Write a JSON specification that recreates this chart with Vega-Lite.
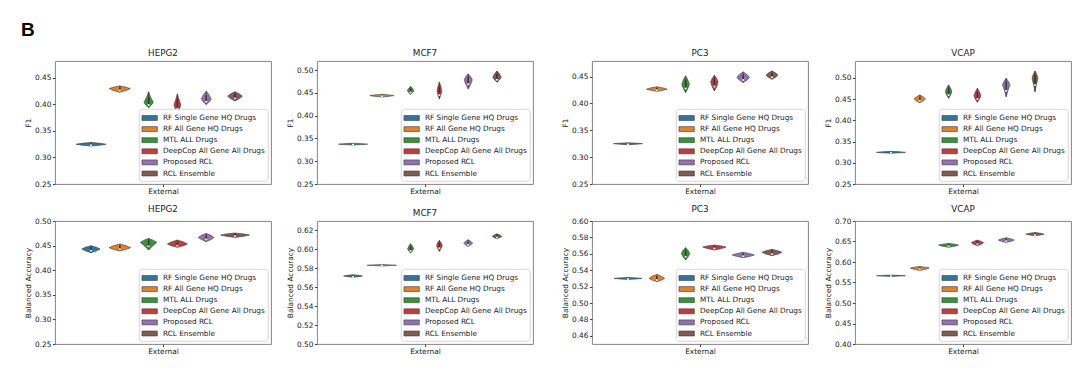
{
"$schema":"https://vega.github.io/schema/vega-lite/v6.json",
"padding":{"left":20,"top":20,"right":6,"bottom":6},
"title":{"text":"B","anchor":"start","frame":"bounds","fontSize":19,"fontWeight":"bold","font":"Liberation Sans","color":"#000000","offset":9,"dx":-3},
"datasets":{
"methods":[{"k":0,"method":"RF Single Gene HQ Drugs"},{"k":1,"method":"RF All Gene HQ Drugs"},{"k":2,"method":"MTL ALL Drugs"},{"k":3,"method":"DeepCop All Gene All Drugs"},{"k":4,"method":"Proposed RCL"},{"k":5,"method":"RCL Ensemble"}],
"violins":[
{"p":1,"k":0,"v":0.3215,"d":0},{"p":1,"k":0,"v":0.32325,"d":0.31},{"p":1,"k":0,"v":0.325,"d":0.5},{"p":1,"k":0,"v":0.32675,"d":0.31},{"p":1,"k":0,"v":0.3285,"d":0},
{"p":1,"k":1,"v":0.423,"d":0},{"p":1,"k":1,"v":0.4265,"d":0.217},{"p":1,"k":1,"v":0.43,"d":0.35},{"p":1,"k":1,"v":0.4325,"d":0.217},{"p":1,"k":1,"v":0.435,"d":0},
{"p":1,"k":2,"v":0.394,"d":0},{"p":1,"k":2,"v":0.399,"d":0.096},{"p":1,"k":2,"v":0.404,"d":0.155},{"p":1,"k":2,"v":0.414,"d":0.065},{"p":1,"k":2,"v":0.424,"d":0},
{"p":1,"k":3,"v":0.385,"d":0},{"p":1,"k":3,"v":0.392,"d":0.072},{"p":1,"k":3,"v":0.399,"d":0.115},{"p":1,"k":3,"v":0.4095,"d":0.055},{"p":1,"k":3,"v":0.42,"d":0},
{"p":1,"k":4,"v":0.4,"d":0},{"p":1,"k":4,"v":0.405,"d":0.103},{"p":1,"k":4,"v":0.41,"d":0.165},{"p":1,"k":4,"v":0.4175,"d":0.103},{"p":1,"k":4,"v":0.425,"d":0},
{"p":1,"k":5,"v":0.4066,"d":0},{"p":1,"k":5,"v":0.4111,"d":0.152},{"p":1,"k":5,"v":0.4155,"d":0.245},{"p":1,"k":5,"v":0.4198,"d":0.152},{"p":1,"k":5,"v":0.424,"d":0},
{"p":2,"k":0,"v":0.3355,"d":0},{"p":2,"k":0,"v":0.3365,"d":0.3},{"p":2,"k":0,"v":0.3375,"d":0.485},{"p":2,"k":0,"v":0.3385,"d":0.3},{"p":2,"k":0,"v":0.3395,"d":0},
{"p":2,"k":1,"v":0.441,"d":0},{"p":2,"k":1,"v":0.4425,"d":0.248},{"p":2,"k":1,"v":0.444,"d":0.4},{"p":2,"k":1,"v":0.4455,"d":0.248},{"p":2,"k":1,"v":0.447,"d":0},
{"p":2,"k":2,"v":0.447,"d":0},{"p":2,"k":2,"v":0.451,"d":0.068},{"p":2,"k":2,"v":0.455,"d":0.11},{"p":2,"k":2,"v":0.4595,"d":0.068},{"p":2,"k":2,"v":0.464,"d":0},
{"p":2,"k":3,"v":0.437,"d":0},{"p":2,"k":3,"v":0.4455,"d":0.05},{"p":2,"k":3,"v":0.454,"d":0.08},{"p":2,"k":3,"v":0.4638,"d":0.05},{"p":2,"k":3,"v":0.4735,"d":0},
{"p":2,"k":4,"v":0.459,"d":0},{"p":2,"k":4,"v":0.4688,"d":0.084},{"p":2,"k":4,"v":0.4786,"d":0.135},{"p":2,"k":4,"v":0.4852,"d":0.084},{"p":2,"k":4,"v":0.4918,"d":0},
{"p":2,"k":5,"v":0.4735,"d":0},{"p":2,"k":5,"v":0.4791,"d":0.087},{"p":2,"k":5,"v":0.4846,"d":0.14},{"p":2,"k":5,"v":0.4912,"d":0.087},{"p":2,"k":5,"v":0.4978,"d":0},
{"p":3,"k":0,"v":0.3232,"d":0},{"p":3,"k":0,"v":0.32415,"d":0.3},{"p":3,"k":0,"v":0.3251,"d":0.485},{"p":3,"k":0,"v":0.32595,"d":0.3},{"p":3,"k":0,"v":0.3268,"d":0},
{"p":3,"k":1,"v":0.4225,"d":0},{"p":3,"k":1,"v":0.4245,"d":0.214},{"p":3,"k":1,"v":0.4265,"d":0.345},{"p":3,"k":1,"v":0.4288,"d":0.214},{"p":3,"k":1,"v":0.431,"d":0},
{"p":3,"k":2,"v":0.4202,"d":0},{"p":3,"k":2,"v":0.428,"d":0.078},{"p":3,"k":2,"v":0.4358,"d":0.125},{"p":3,"k":2,"v":0.4436,"d":0.078},{"p":3,"k":2,"v":0.4513,"d":0},
{"p":3,"k":3,"v":0.4233,"d":0},{"p":3,"k":3,"v":0.4317,"d":0.078},{"p":3,"k":3,"v":0.44,"d":0.125},{"p":3,"k":3,"v":0.4463,"d":0.078},{"p":3,"k":3,"v":0.4526,"d":0},
{"p":3,"k":4,"v":0.4389,"d":0},{"p":3,"k":4,"v":0.4435,"d":0.13},{"p":3,"k":4,"v":0.4481,"d":0.21},{"p":3,"k":4,"v":0.4535,"d":0.13},{"p":3,"k":4,"v":0.4588,"d":0},
{"p":3,"k":5,"v":0.4451,"d":0},{"p":3,"k":5,"v":0.4489,"d":0.124},{"p":3,"k":5,"v":0.4526,"d":0.2},{"p":3,"k":5,"v":0.4566,"d":0.124},{"p":3,"k":5,"v":0.4606,"d":0},
{"p":4,"k":0,"v":0.3225,"d":0},{"p":4,"k":0,"v":0.3236,"d":0.3},{"p":4,"k":0,"v":0.3247,"d":0.485},{"p":4,"k":0,"v":0.32585,"d":0.3},{"p":4,"k":0,"v":0.327,"d":0},
{"p":4,"k":1,"v":0.4418,"d":0},{"p":4,"k":1,"v":0.4462,"d":0.118},{"p":4,"k":1,"v":0.4505,"d":0.19},{"p":4,"k":1,"v":0.4552,"d":0.118},{"p":4,"k":1,"v":0.4599,"d":0},
{"p":4,"k":2,"v":0.452,"d":0},{"p":4,"k":2,"v":0.4599,"d":0.068},{"p":4,"k":2,"v":0.4677,"d":0.11},{"p":4,"k":2,"v":0.4756,"d":0.068},{"p":4,"k":2,"v":0.4835,"d":0},
{"p":4,"k":3,"v":0.4427,"d":0},{"p":4,"k":3,"v":0.4505,"d":0.072},{"p":4,"k":3,"v":0.4583,"d":0.115},{"p":4,"k":3,"v":0.467,"d":0.072},{"p":4,"k":3,"v":0.4757,"d":0},
{"p":4,"k":4,"v":0.456,"d":0},{"p":4,"k":4,"v":0.4698,"d":0.055},{"p":4,"k":4,"v":0.4835,"d":0.125},{"p":4,"k":4,"v":0.4914,"d":0.078},{"p":4,"k":4,"v":0.4993,"d":0},
{"p":4,"k":5,"v":0.4677,"d":0},{"p":4,"k":5,"v":0.4835,"d":0.045},{"p":4,"k":5,"v":0.4993,"d":0.1},{"p":4,"k":5,"v":0.5079,"d":0.062},{"p":4,"k":5,"v":0.5165,"d":0},
{"p":5,"k":0,"v":0.4356,"d":0},{"p":5,"k":0,"v":0.4393,"d":0.189},{"p":5,"k":0,"v":0.443,"d":0.305},{"p":5,"k":0,"v":0.4464,"d":0.189},{"p":5,"k":0,"v":0.4498,"d":0},
{"p":5,"k":1,"v":0.439,"d":0},{"p":5,"k":1,"v":0.4424,"d":0.223},{"p":5,"k":1,"v":0.4457,"d":0.36},{"p":5,"k":1,"v":0.4495,"d":0.223},{"p":5,"k":1,"v":0.4533,"d":0},
{"p":5,"k":2,"v":0.441,"d":0},{"p":5,"k":2,"v":0.4488,"d":0.125},{"p":5,"k":2,"v":0.4565,"d":0.275},{"p":5,"k":2,"v":0.4606,"d":0.17},{"p":5,"k":2,"v":0.4646,"d":0},
{"p":5,"k":3,"v":0.4464,"d":0},{"p":5,"k":3,"v":0.4499,"d":0.208},{"p":5,"k":3,"v":0.4533,"d":0.335},{"p":5,"k":3,"v":0.4574,"d":0.208},{"p":5,"k":3,"v":0.4614,"d":0},
{"p":5,"k":4,"v":0.4579,"d":0},{"p":5,"k":4,"v":0.4623,"d":0.161},{"p":5,"k":4,"v":0.4667,"d":0.26},{"p":5,"k":4,"v":0.4708,"d":0.161},{"p":5,"k":4,"v":0.4748,"d":0},
{"p":5,"k":5,"v":0.4667,"d":0},{"p":5,"k":5,"v":0.4691,"d":0.3},{"p":5,"k":5,"v":0.4715,"d":0.485},{"p":5,"k":5,"v":0.4736,"d":0.3},{"p":5,"k":5,"v":0.4756,"d":0},
{"p":6,"k":0,"v":0.5705,"d":0},{"p":6,"k":0,"v":0.5712,"d":0.196},{"p":6,"k":0,"v":0.5719,"d":0.315},{"p":6,"k":0,"v":0.5726,"d":0.196},{"p":6,"k":0,"v":0.5732,"d":0},
{"p":6,"k":1,"v":0.5825,"d":0},{"p":6,"k":1,"v":0.5829,"d":0.304},{"p":6,"k":1,"v":0.5832,"d":0.49},{"p":6,"k":1,"v":0.5836,"d":0.304},{"p":6,"k":1,"v":0.584,"d":0},
{"p":6,"k":2,"v":0.5961,"d":0},{"p":6,"k":2,"v":0.5984,"d":0.062},{"p":6,"k":2,"v":0.6006,"d":0.1},{"p":6,"k":2,"v":0.6033,"d":0.062},{"p":6,"k":2,"v":0.6059,"d":0},
{"p":6,"k":3,"v":0.5979,"d":0},{"p":6,"k":3,"v":0.6011,"d":0.059},{"p":6,"k":3,"v":0.6042,"d":0.095},{"p":6,"k":3,"v":0.6069,"d":0.059},{"p":6,"k":3,"v":0.6095,"d":0},
{"p":6,"k":4,"v":0.6032,"d":0},{"p":6,"k":4,"v":0.6049,"d":0.093},{"p":6,"k":4,"v":0.6066,"d":0.15},{"p":6,"k":4,"v":0.6084,"d":0.093},{"p":6,"k":4,"v":0.6101,"d":0},
{"p":6,"k":5,"v":0.6112,"d":0},{"p":6,"k":5,"v":0.6125,"d":0.099},{"p":6,"k":5,"v":0.6137,"d":0.16},{"p":6,"k":5,"v":0.6151,"d":0.099},{"p":6,"k":5,"v":0.6164,"d":0},
{"p":7,"k":0,"v":0.5288,"d":0},{"p":7,"k":0,"v":0.5294,"d":0.288},{"p":7,"k":0,"v":0.53,"d":0.465},{"p":7,"k":0,"v":0.5306,"d":0.288},{"p":7,"k":0,"v":0.5312,"d":0},
{"p":7,"k":1,"v":0.526,"d":0},{"p":7,"k":1,"v":0.528,"d":0.161},{"p":7,"k":1,"v":0.53,"d":0.26},{"p":7,"k":1,"v":0.5325,"d":0.161},{"p":7,"k":1,"v":0.5349,"d":0},
{"p":7,"k":2,"v":0.5524,"d":0},{"p":7,"k":2,"v":0.5565,"d":0.087},{"p":7,"k":2,"v":0.5605,"d":0.14},{"p":7,"k":2,"v":0.564,"d":0.087},{"p":7,"k":2,"v":0.5675,"d":0},
{"p":7,"k":3,"v":0.5646,"d":0},{"p":7,"k":3,"v":0.5664,"d":0.242},{"p":7,"k":3,"v":0.5682,"d":0.39},{"p":7,"k":3,"v":0.5695,"d":0.242},{"p":7,"k":3,"v":0.5707,"d":0},
{"p":7,"k":4,"v":0.5553,"d":0},{"p":7,"k":4,"v":0.5569,"d":0.229},{"p":7,"k":4,"v":0.5585,"d":0.37},{"p":7,"k":4,"v":0.5602,"d":0.229},{"p":7,"k":4,"v":0.5618,"d":0},
{"p":7,"k":5,"v":0.5577,"d":0},{"p":7,"k":5,"v":0.5598,"d":0.208},{"p":7,"k":5,"v":0.5618,"d":0.335},{"p":7,"k":5,"v":0.5636,"d":0.208},{"p":7,"k":5,"v":0.5654,"d":0},
{"p":8,"k":0,"v":0.5648,"d":0},{"p":8,"k":0,"v":0.5657,"d":0.298},{"p":8,"k":0,"v":0.5665,"d":0.48},{"p":8,"k":0,"v":0.5673,"d":0.298},{"p":8,"k":0,"v":0.568,"d":0},
{"p":8,"k":1,"v":0.5795,"d":0},{"p":8,"k":1,"v":0.5823,"d":0.196},{"p":8,"k":1,"v":0.5851,"d":0.315},{"p":8,"k":1,"v":0.5872,"d":0.196},{"p":8,"k":1,"v":0.5892,"d":0},
{"p":8,"k":2,"v":0.6358,"d":0},{"p":8,"k":2,"v":0.6386,"d":0.208},{"p":8,"k":2,"v":0.6413,"d":0.335},{"p":8,"k":2,"v":0.6434,"d":0.208},{"p":8,"k":2,"v":0.6454,"d":0},
{"p":8,"k":3,"v":0.6399,"d":0},{"p":8,"k":3,"v":0.6435,"d":0.127},{"p":8,"k":3,"v":0.6471,"d":0.205},{"p":8,"k":3,"v":0.6503,"d":0.127},{"p":8,"k":3,"v":0.6534,"d":0},
{"p":8,"k":4,"v":0.6478,"d":0},{"p":8,"k":4,"v":0.6506,"d":0.165},{"p":8,"k":4,"v":0.6534,"d":0.265},{"p":8,"k":4,"v":0.6563,"d":0.165},{"p":8,"k":4,"v":0.6592,"d":0},
{"p":8,"k":5,"v":0.664,"d":0},{"p":8,"k":5,"v":0.666,"d":0.186},{"p":8,"k":5,"v":0.6679,"d":0.3},{"p":8,"k":5,"v":0.67,"d":0.186},{"p":8,"k":5,"v":0.672,"d":0}
]},
"vconcat":[
{"hconcat":[
 {"hconcat":[
  {"width":216,"height":123,"title":"HEPG2","data":{"name":"violins"},
   "transform":[{"filter":{"field":"p","equal":1}},{"lookup":"k","from":{"data":{"name":"methods"},"key":"k","fields":["method"]}}],
   "encoding":{"y":{"field":"v","type":"quantitative","scale":{"domain":[0.25,0.482],"nice":false,"zero":false},"axis":{"title":"F1","values":[0.25,0.3,0.35,0.4,0.45],"format":".2f"}},
    "color":{"field":"method","type":"nominal","scale":{"domain":["RF Single Gene HQ Drugs","RF All Gene HQ Drugs","MTL ALL Drugs","DeepCop All Gene All Drugs","Proposed RCL","RCL Ensemble"]},"legend":{"title":null}}},
   "layer":[
    {"transform":[{"filter":{"field":"k","equal":0}}],"mark":"area","encoding":{"x":{"field":"d","type":"quantitative","stack":null,"scale":{"domain":[-1.2,6.0],"nice":false},"axis":null}}},
    {"transform":[{"filter":{"field":"k","equal":0}}],"mark":"area","encoding":{"x":{"field":"d","type":"quantitative","stack":null,"scale":{"domain":[-6.0,1.2],"reverse":true,"nice":false},"axis":null}}},
    {"transform":[{"filter":{"field":"k","equal":1}}],"mark":"area","encoding":{"x":{"field":"d","type":"quantitative","stack":null,"scale":{"domain":[-2.16,5.04],"nice":false},"axis":null}}},
    {"transform":[{"filter":{"field":"k","equal":1}}],"mark":"area","encoding":{"x":{"field":"d","type":"quantitative","stack":null,"scale":{"domain":[-5.04,2.16],"reverse":true,"nice":false},"axis":null}}},
    {"transform":[{"filter":{"field":"k","equal":2}}],"mark":"area","encoding":{"x":{"field":"d","type":"quantitative","stack":null,"scale":{"domain":[-3.12,4.08],"nice":false},"axis":null}}},
    {"transform":[{"filter":{"field":"k","equal":2}}],"mark":"area","encoding":{"x":{"field":"d","type":"quantitative","stack":null,"scale":{"domain":[-4.08,3.12],"reverse":true,"nice":false},"axis":null}}},
    {"transform":[{"filter":{"field":"k","equal":3}}],"mark":"area","encoding":{"x":{"field":"d","type":"quantitative","stack":null,"scale":{"domain":[-4.08,3.12],"nice":false},"axis":null}}},
    {"transform":[{"filter":{"field":"k","equal":3}}],"mark":"area","encoding":{"x":{"field":"d","type":"quantitative","stack":null,"scale":{"domain":[-3.12,4.08],"reverse":true,"nice":false},"axis":null}}},
    {"transform":[{"filter":{"field":"k","equal":4}}],"mark":"area","encoding":{"x":{"field":"d","type":"quantitative","stack":null,"scale":{"domain":[-5.04,2.16],"nice":false},"axis":null}}},
    {"transform":[{"filter":{"field":"k","equal":4}}],"mark":"area","encoding":{"x":{"field":"d","type":"quantitative","stack":null,"scale":{"domain":[-2.16,5.04],"reverse":true,"nice":false},"axis":null}}},
    {"transform":[{"filter":{"field":"k","equal":5}}],"mark":"area","encoding":{"x":{"field":"d","type":"quantitative","stack":null,"scale":{"domain":[-6.0,1.2],"nice":false},"axis":null}}},
    {"transform":[{"filter":{"field":"k","equal":5}}],"mark":"area","encoding":{"x":{"field":"d","type":"quantitative","stack":null,"scale":{"domain":[-1.2,6.0],"reverse":true,"nice":false},"axis":null}}},
    {"transform":[{"filter":{"field":"d","gt":0}},{"aggregate":[{"op":"min","field":"v","as":"v"},{"op":"max","field":"v","as":"v2"}],"groupby":["k"]}],"mark":{"type":"rule","strokeWidth":1.4},"encoding":{"x":{"field":"k","type":"quantitative","scale":{"domain":[-1.25,6.25],"nice":false},"axis":{"title":"External","labels":false,"values":[2.5],"titlePadding":0}},"y2":{"field":"v2"},"color":{"value":"#333333"}}},
    {"transform":[{"filter":{"field":"d","gt":0}},{"aggregate":[{"op":"median","field":"v","as":"v"}],"groupby":["k"]}],"mark":{"type":"point","filled":true,"size":4,"opacity":1},"encoding":{"x":{"field":"k","type":"quantitative","scale":{"domain":[-1.25,6.25],"nice":false},"axis":null},"color":{"value":"#ffffff"}}}
   ],
   "resolve":{"scale":{"x":"independent"}}},
  {"width":216,"height":123,"title":"MCF7","data":{"name":"violins"},
   "transform":[{"filter":{"field":"p","equal":2}},{"lookup":"k","from":{"data":{"name":"methods"},"key":"k","fields":["method"]}}],
   "encoding":{"y":{"field":"v","type":"quantitative","scale":{"domain":[0.25,0.52],"nice":false,"zero":false},"axis":{"title":"F1","values":[0.25,0.3,0.35,0.4,0.45,0.5],"format":".2f"}},
    "color":{"field":"method","type":"nominal","scale":{"domain":["RF Single Gene HQ Drugs","RF All Gene HQ Drugs","MTL ALL Drugs","DeepCop All Gene All Drugs","Proposed RCL","RCL Ensemble"]},"legend":{"title":null}}},
   "layer":[
    {"transform":[{"filter":{"field":"k","equal":0}}],"mark":"area","encoding":{"x":{"field":"d","type":"quantitative","stack":null,"scale":{"domain":[-1.2,6.0],"nice":false},"axis":null}}},
    {"transform":[{"filter":{"field":"k","equal":0}}],"mark":"area","encoding":{"x":{"field":"d","type":"quantitative","stack":null,"scale":{"domain":[-6.0,1.2],"reverse":true,"nice":false},"axis":null}}},
    {"transform":[{"filter":{"field":"k","equal":1}}],"mark":"area","encoding":{"x":{"field":"d","type":"quantitative","stack":null,"scale":{"domain":[-2.16,5.04],"nice":false},"axis":null}}},
    {"transform":[{"filter":{"field":"k","equal":1}}],"mark":"area","encoding":{"x":{"field":"d","type":"quantitative","stack":null,"scale":{"domain":[-5.04,2.16],"reverse":true,"nice":false},"axis":null}}},
    {"transform":[{"filter":{"field":"k","equal":2}}],"mark":"area","encoding":{"x":{"field":"d","type":"quantitative","stack":null,"scale":{"domain":[-3.12,4.08],"nice":false},"axis":null}}},
    {"transform":[{"filter":{"field":"k","equal":2}}],"mark":"area","encoding":{"x":{"field":"d","type":"quantitative","stack":null,"scale":{"domain":[-4.08,3.12],"reverse":true,"nice":false},"axis":null}}},
    {"transform":[{"filter":{"field":"k","equal":3}}],"mark":"area","encoding":{"x":{"field":"d","type":"quantitative","stack":null,"scale":{"domain":[-4.08,3.12],"nice":false},"axis":null}}},
    {"transform":[{"filter":{"field":"k","equal":3}}],"mark":"area","encoding":{"x":{"field":"d","type":"quantitative","stack":null,"scale":{"domain":[-3.12,4.08],"reverse":true,"nice":false},"axis":null}}},
    {"transform":[{"filter":{"field":"k","equal":4}}],"mark":"area","encoding":{"x":{"field":"d","type":"quantitative","stack":null,"scale":{"domain":[-5.04,2.16],"nice":false},"axis":null}}},
    {"transform":[{"filter":{"field":"k","equal":4}}],"mark":"area","encoding":{"x":{"field":"d","type":"quantitative","stack":null,"scale":{"domain":[-2.16,5.04],"reverse":true,"nice":false},"axis":null}}},
    {"transform":[{"filter":{"field":"k","equal":5}}],"mark":"area","encoding":{"x":{"field":"d","type":"quantitative","stack":null,"scale":{"domain":[-6.0,1.2],"nice":false},"axis":null}}},
    {"transform":[{"filter":{"field":"k","equal":5}}],"mark":"area","encoding":{"x":{"field":"d","type":"quantitative","stack":null,"scale":{"domain":[-1.2,6.0],"reverse":true,"nice":false},"axis":null}}},
    {"transform":[{"filter":{"field":"d","gt":0}},{"aggregate":[{"op":"min","field":"v","as":"v"},{"op":"max","field":"v","as":"v2"}],"groupby":["k"]}],"mark":{"type":"rule","strokeWidth":1.4},"encoding":{"x":{"field":"k","type":"quantitative","scale":{"domain":[-1.25,6.25],"nice":false},"axis":{"title":"External","labels":false,"values":[2.5],"titlePadding":0}},"y2":{"field":"v2"},"color":{"value":"#333333"}}},
    {"transform":[{"filter":{"field":"d","gt":0}},{"aggregate":[{"op":"median","field":"v","as":"v"}],"groupby":["k"]}],"mark":{"type":"point","filled":true,"size":4,"opacity":1},"encoding":{"x":{"field":"k","type":"quantitative","scale":{"domain":[-1.25,6.25],"nice":false},"axis":null},"color":{"value":"#ffffff"}}}
   ],
   "resolve":{"scale":{"x":"independent"}}}
 ],"spacing":46,"bounds":"flush","resolve":{"scale":{"x":"independent","y":"independent","color":"independent"},"legend":{"color":"independent"}}},
 {"hconcat":[
  {"width":216,"height":123,"title":"PC3","data":{"name":"violins"},
   "transform":[{"filter":{"field":"p","equal":3}},{"lookup":"k","from":{"data":{"name":"methods"},"key":"k","fields":["method"]}}],
   "encoding":{"y":{"field":"v","type":"quantitative","scale":{"domain":[0.25,0.479],"nice":false,"zero":false},"axis":{"title":"F1","values":[0.25,0.3,0.35,0.4,0.45],"format":".2f"}},
    "color":{"field":"method","type":"nominal","scale":{"domain":["RF Single Gene HQ Drugs","RF All Gene HQ Drugs","MTL ALL Drugs","DeepCop All Gene All Drugs","Proposed RCL","RCL Ensemble"]},"legend":{"title":null}}},
   "layer":[
    {"transform":[{"filter":{"field":"k","equal":0}}],"mark":"area","encoding":{"x":{"field":"d","type":"quantitative","stack":null,"scale":{"domain":[-1.2,6.0],"nice":false},"axis":null}}},
    {"transform":[{"filter":{"field":"k","equal":0}}],"mark":"area","encoding":{"x":{"field":"d","type":"quantitative","stack":null,"scale":{"domain":[-6.0,1.2],"reverse":true,"nice":false},"axis":null}}},
    {"transform":[{"filter":{"field":"k","equal":1}}],"mark":"area","encoding":{"x":{"field":"d","type":"quantitative","stack":null,"scale":{"domain":[-2.16,5.04],"nice":false},"axis":null}}},
    {"transform":[{"filter":{"field":"k","equal":1}}],"mark":"area","encoding":{"x":{"field":"d","type":"quantitative","stack":null,"scale":{"domain":[-5.04,2.16],"reverse":true,"nice":false},"axis":null}}},
    {"transform":[{"filter":{"field":"k","equal":2}}],"mark":"area","encoding":{"x":{"field":"d","type":"quantitative","stack":null,"scale":{"domain":[-3.12,4.08],"nice":false},"axis":null}}},
    {"transform":[{"filter":{"field":"k","equal":2}}],"mark":"area","encoding":{"x":{"field":"d","type":"quantitative","stack":null,"scale":{"domain":[-4.08,3.12],"reverse":true,"nice":false},"axis":null}}},
    {"transform":[{"filter":{"field":"k","equal":3}}],"mark":"area","encoding":{"x":{"field":"d","type":"quantitative","stack":null,"scale":{"domain":[-4.08,3.12],"nice":false},"axis":null}}},
    {"transform":[{"filter":{"field":"k","equal":3}}],"mark":"area","encoding":{"x":{"field":"d","type":"quantitative","stack":null,"scale":{"domain":[-3.12,4.08],"reverse":true,"nice":false},"axis":null}}},
    {"transform":[{"filter":{"field":"k","equal":4}}],"mark":"area","encoding":{"x":{"field":"d","type":"quantitative","stack":null,"scale":{"domain":[-5.04,2.16],"nice":false},"axis":null}}},
    {"transform":[{"filter":{"field":"k","equal":4}}],"mark":"area","encoding":{"x":{"field":"d","type":"quantitative","stack":null,"scale":{"domain":[-2.16,5.04],"reverse":true,"nice":false},"axis":null}}},
    {"transform":[{"filter":{"field":"k","equal":5}}],"mark":"area","encoding":{"x":{"field":"d","type":"quantitative","stack":null,"scale":{"domain":[-6.0,1.2],"nice":false},"axis":null}}},
    {"transform":[{"filter":{"field":"k","equal":5}}],"mark":"area","encoding":{"x":{"field":"d","type":"quantitative","stack":null,"scale":{"domain":[-1.2,6.0],"reverse":true,"nice":false},"axis":null}}},
    {"transform":[{"filter":{"field":"d","gt":0}},{"aggregate":[{"op":"min","field":"v","as":"v"},{"op":"max","field":"v","as":"v2"}],"groupby":["k"]}],"mark":{"type":"rule","strokeWidth":1.4},"encoding":{"x":{"field":"k","type":"quantitative","scale":{"domain":[-1.25,6.25],"nice":false},"axis":{"title":"External","labels":false,"values":[2.5],"titlePadding":0}},"y2":{"field":"v2"},"color":{"value":"#333333"}}},
    {"transform":[{"filter":{"field":"d","gt":0}},{"aggregate":[{"op":"median","field":"v","as":"v"}],"groupby":["k"]}],"mark":{"type":"point","filled":true,"size":4,"opacity":1},"encoding":{"x":{"field":"k","type":"quantitative","scale":{"domain":[-1.25,6.25],"nice":false},"axis":null},"color":{"value":"#ffffff"}}}
   ],
   "resolve":{"scale":{"x":"independent"}}},
  {"width":216,"height":123,"title":"VCAP","data":{"name":"violins"},
   "transform":[{"filter":{"field":"p","equal":4}},{"lookup":"k","from":{"data":{"name":"methods"},"key":"k","fields":["method"]}}],
   "encoding":{"y":{"field":"v","type":"quantitative","scale":{"domain":[0.25,0.54],"nice":false,"zero":false},"axis":{"title":"F1","values":[0.25,0.3,0.35,0.4,0.45,0.5],"format":".2f"}},
    "color":{"field":"method","type":"nominal","scale":{"domain":["RF Single Gene HQ Drugs","RF All Gene HQ Drugs","MTL ALL Drugs","DeepCop All Gene All Drugs","Proposed RCL","RCL Ensemble"]},"legend":{"title":null}}},
   "layer":[
    {"transform":[{"filter":{"field":"k","equal":0}}],"mark":"area","encoding":{"x":{"field":"d","type":"quantitative","stack":null,"scale":{"domain":[-1.2,6.0],"nice":false},"axis":null}}},
    {"transform":[{"filter":{"field":"k","equal":0}}],"mark":"area","encoding":{"x":{"field":"d","type":"quantitative","stack":null,"scale":{"domain":[-6.0,1.2],"reverse":true,"nice":false},"axis":null}}},
    {"transform":[{"filter":{"field":"k","equal":1}}],"mark":"area","encoding":{"x":{"field":"d","type":"quantitative","stack":null,"scale":{"domain":[-2.16,5.04],"nice":false},"axis":null}}},
    {"transform":[{"filter":{"field":"k","equal":1}}],"mark":"area","encoding":{"x":{"field":"d","type":"quantitative","stack":null,"scale":{"domain":[-5.04,2.16],"reverse":true,"nice":false},"axis":null}}},
    {"transform":[{"filter":{"field":"k","equal":2}}],"mark":"area","encoding":{"x":{"field":"d","type":"quantitative","stack":null,"scale":{"domain":[-3.12,4.08],"nice":false},"axis":null}}},
    {"transform":[{"filter":{"field":"k","equal":2}}],"mark":"area","encoding":{"x":{"field":"d","type":"quantitative","stack":null,"scale":{"domain":[-4.08,3.12],"reverse":true,"nice":false},"axis":null}}},
    {"transform":[{"filter":{"field":"k","equal":3}}],"mark":"area","encoding":{"x":{"field":"d","type":"quantitative","stack":null,"scale":{"domain":[-4.08,3.12],"nice":false},"axis":null}}},
    {"transform":[{"filter":{"field":"k","equal":3}}],"mark":"area","encoding":{"x":{"field":"d","type":"quantitative","stack":null,"scale":{"domain":[-3.12,4.08],"reverse":true,"nice":false},"axis":null}}},
    {"transform":[{"filter":{"field":"k","equal":4}}],"mark":"area","encoding":{"x":{"field":"d","type":"quantitative","stack":null,"scale":{"domain":[-5.04,2.16],"nice":false},"axis":null}}},
    {"transform":[{"filter":{"field":"k","equal":4}}],"mark":"area","encoding":{"x":{"field":"d","type":"quantitative","stack":null,"scale":{"domain":[-2.16,5.04],"reverse":true,"nice":false},"axis":null}}},
    {"transform":[{"filter":{"field":"k","equal":5}}],"mark":"area","encoding":{"x":{"field":"d","type":"quantitative","stack":null,"scale":{"domain":[-6.0,1.2],"nice":false},"axis":null}}},
    {"transform":[{"filter":{"field":"k","equal":5}}],"mark":"area","encoding":{"x":{"field":"d","type":"quantitative","stack":null,"scale":{"domain":[-1.2,6.0],"reverse":true,"nice":false},"axis":null}}},
    {"transform":[{"filter":{"field":"d","gt":0}},{"aggregate":[{"op":"min","field":"v","as":"v"},{"op":"max","field":"v","as":"v2"}],"groupby":["k"]}],"mark":{"type":"rule","strokeWidth":1.4},"encoding":{"x":{"field":"k","type":"quantitative","scale":{"domain":[-1.25,6.25],"nice":false},"axis":{"title":"External","labels":false,"values":[2.5],"titlePadding":0}},"y2":{"field":"v2"},"color":{"value":"#333333"}}},
    {"transform":[{"filter":{"field":"d","gt":0}},{"aggregate":[{"op":"median","field":"v","as":"v"}],"groupby":["k"]}],"mark":{"type":"point","filled":true,"size":4,"opacity":1},"encoding":{"x":{"field":"k","type":"quantitative","scale":{"domain":[-1.25,6.25],"nice":false},"axis":null},"color":{"value":"#ffffff"}}}
   ],
   "resolve":{"scale":{"x":"independent"}}}
 ],"spacing":47,"bounds":"flush","resolve":{"scale":{"x":"independent","y":"independent","color":"independent"},"legend":{"color":"independent"}}}
],"spacing":26,"resolve":{"scale":{"x":"independent","y":"independent","color":"independent"},"legend":{"color":"independent"}}},
{"hconcat":[
 {"hconcat":[
  {"width":216,"height":123,"title":"HEPG2","data":{"name":"violins"},
   "transform":[{"filter":{"field":"p","equal":5}},{"lookup":"k","from":{"data":{"name":"methods"},"key":"k","fields":["method"]}}],
   "encoding":{"y":{"field":"v","type":"quantitative","scale":{"domain":[0.25,0.5],"nice":false,"zero":false},"axis":{"title":"Balanced Accuracy","values":[0.25,0.3,0.35,0.4,0.45,0.5],"format":".2f"}},
    "color":{"field":"method","type":"nominal","scale":{"domain":["RF Single Gene HQ Drugs","RF All Gene HQ Drugs","MTL ALL Drugs","DeepCop All Gene All Drugs","Proposed RCL","RCL Ensemble"]},"legend":{"title":null}}},
   "layer":[
    {"transform":[{"filter":{"field":"k","equal":0}}],"mark":"area","encoding":{"x":{"field":"d","type":"quantitative","stack":null,"scale":{"domain":[-1.2,6.0],"nice":false},"axis":null}}},
    {"transform":[{"filter":{"field":"k","equal":0}}],"mark":"area","encoding":{"x":{"field":"d","type":"quantitative","stack":null,"scale":{"domain":[-6.0,1.2],"reverse":true,"nice":false},"axis":null}}},
    {"transform":[{"filter":{"field":"k","equal":1}}],"mark":"area","encoding":{"x":{"field":"d","type":"quantitative","stack":null,"scale":{"domain":[-2.16,5.04],"nice":false},"axis":null}}},
    {"transform":[{"filter":{"field":"k","equal":1}}],"mark":"area","encoding":{"x":{"field":"d","type":"quantitative","stack":null,"scale":{"domain":[-5.04,2.16],"reverse":true,"nice":false},"axis":null}}},
    {"transform":[{"filter":{"field":"k","equal":2}}],"mark":"area","encoding":{"x":{"field":"d","type":"quantitative","stack":null,"scale":{"domain":[-3.12,4.08],"nice":false},"axis":null}}},
    {"transform":[{"filter":{"field":"k","equal":2}}],"mark":"area","encoding":{"x":{"field":"d","type":"quantitative","stack":null,"scale":{"domain":[-4.08,3.12],"reverse":true,"nice":false},"axis":null}}},
    {"transform":[{"filter":{"field":"k","equal":3}}],"mark":"area","encoding":{"x":{"field":"d","type":"quantitative","stack":null,"scale":{"domain":[-4.08,3.12],"nice":false},"axis":null}}},
    {"transform":[{"filter":{"field":"k","equal":3}}],"mark":"area","encoding":{"x":{"field":"d","type":"quantitative","stack":null,"scale":{"domain":[-3.12,4.08],"reverse":true,"nice":false},"axis":null}}},
    {"transform":[{"filter":{"field":"k","equal":4}}],"mark":"area","encoding":{"x":{"field":"d","type":"quantitative","stack":null,"scale":{"domain":[-5.04,2.16],"nice":false},"axis":null}}},
    {"transform":[{"filter":{"field":"k","equal":4}}],"mark":"area","encoding":{"x":{"field":"d","type":"quantitative","stack":null,"scale":{"domain":[-2.16,5.04],"reverse":true,"nice":false},"axis":null}}},
    {"transform":[{"filter":{"field":"k","equal":5}}],"mark":"area","encoding":{"x":{"field":"d","type":"quantitative","stack":null,"scale":{"domain":[-6.0,1.2],"nice":false},"axis":null}}},
    {"transform":[{"filter":{"field":"k","equal":5}}],"mark":"area","encoding":{"x":{"field":"d","type":"quantitative","stack":null,"scale":{"domain":[-1.2,6.0],"reverse":true,"nice":false},"axis":null}}},
    {"transform":[{"filter":{"field":"d","gt":0}},{"aggregate":[{"op":"min","field":"v","as":"v"},{"op":"max","field":"v","as":"v2"}],"groupby":["k"]}],"mark":{"type":"rule","strokeWidth":1.4},"encoding":{"x":{"field":"k","type":"quantitative","scale":{"domain":[-1.25,6.25],"nice":false},"axis":{"title":"External","labels":false,"values":[2.5],"titlePadding":0}},"y2":{"field":"v2"},"color":{"value":"#333333"}}},
    {"transform":[{"filter":{"field":"d","gt":0}},{"aggregate":[{"op":"median","field":"v","as":"v"}],"groupby":["k"]}],"mark":{"type":"point","filled":true,"size":4,"opacity":1},"encoding":{"x":{"field":"k","type":"quantitative","scale":{"domain":[-1.25,6.25],"nice":false},"axis":null},"color":{"value":"#ffffff"}}}
   ],
   "resolve":{"scale":{"x":"independent"}}},
  {"width":216,"height":123,"title":"MCF7","data":{"name":"violins"},
   "transform":[{"filter":{"field":"p","equal":6}},{"lookup":"k","from":{"data":{"name":"methods"},"key":"k","fields":["method"]}}],
   "encoding":{"y":{"field":"v","type":"quantitative","scale":{"domain":[0.5,0.63],"nice":false,"zero":false},"axis":{"title":"Balanced Accuracy","values":[0.5,0.52,0.54,0.56,0.58,0.6,0.62],"format":".2f"}},
    "color":{"field":"method","type":"nominal","scale":{"domain":["RF Single Gene HQ Drugs","RF All Gene HQ Drugs","MTL ALL Drugs","DeepCop All Gene All Drugs","Proposed RCL","RCL Ensemble"]},"legend":{"title":null}}},
   "layer":[
    {"transform":[{"filter":{"field":"k","equal":0}}],"mark":"area","encoding":{"x":{"field":"d","type":"quantitative","stack":null,"scale":{"domain":[-1.2,6.0],"nice":false},"axis":null}}},
    {"transform":[{"filter":{"field":"k","equal":0}}],"mark":"area","encoding":{"x":{"field":"d","type":"quantitative","stack":null,"scale":{"domain":[-6.0,1.2],"reverse":true,"nice":false},"axis":null}}},
    {"transform":[{"filter":{"field":"k","equal":1}}],"mark":"area","encoding":{"x":{"field":"d","type":"quantitative","stack":null,"scale":{"domain":[-2.16,5.04],"nice":false},"axis":null}}},
    {"transform":[{"filter":{"field":"k","equal":1}}],"mark":"area","encoding":{"x":{"field":"d","type":"quantitative","stack":null,"scale":{"domain":[-5.04,2.16],"reverse":true,"nice":false},"axis":null}}},
    {"transform":[{"filter":{"field":"k","equal":2}}],"mark":"area","encoding":{"x":{"field":"d","type":"quantitative","stack":null,"scale":{"domain":[-3.12,4.08],"nice":false},"axis":null}}},
    {"transform":[{"filter":{"field":"k","equal":2}}],"mark":"area","encoding":{"x":{"field":"d","type":"quantitative","stack":null,"scale":{"domain":[-4.08,3.12],"reverse":true,"nice":false},"axis":null}}},
    {"transform":[{"filter":{"field":"k","equal":3}}],"mark":"area","encoding":{"x":{"field":"d","type":"quantitative","stack":null,"scale":{"domain":[-4.08,3.12],"nice":false},"axis":null}}},
    {"transform":[{"filter":{"field":"k","equal":3}}],"mark":"area","encoding":{"x":{"field":"d","type":"quantitative","stack":null,"scale":{"domain":[-3.12,4.08],"reverse":true,"nice":false},"axis":null}}},
    {"transform":[{"filter":{"field":"k","equal":4}}],"mark":"area","encoding":{"x":{"field":"d","type":"quantitative","stack":null,"scale":{"domain":[-5.04,2.16],"nice":false},"axis":null}}},
    {"transform":[{"filter":{"field":"k","equal":4}}],"mark":"area","encoding":{"x":{"field":"d","type":"quantitative","stack":null,"scale":{"domain":[-2.16,5.04],"reverse":true,"nice":false},"axis":null}}},
    {"transform":[{"filter":{"field":"k","equal":5}}],"mark":"area","encoding":{"x":{"field":"d","type":"quantitative","stack":null,"scale":{"domain":[-6.0,1.2],"nice":false},"axis":null}}},
    {"transform":[{"filter":{"field":"k","equal":5}}],"mark":"area","encoding":{"x":{"field":"d","type":"quantitative","stack":null,"scale":{"domain":[-1.2,6.0],"reverse":true,"nice":false},"axis":null}}},
    {"transform":[{"filter":{"field":"d","gt":0}},{"aggregate":[{"op":"min","field":"v","as":"v"},{"op":"max","field":"v","as":"v2"}],"groupby":["k"]}],"mark":{"type":"rule","strokeWidth":1.4},"encoding":{"x":{"field":"k","type":"quantitative","scale":{"domain":[-1.25,6.25],"nice":false},"axis":{"title":"External","labels":false,"values":[2.5],"titlePadding":0}},"y2":{"field":"v2"},"color":{"value":"#333333"}}},
    {"transform":[{"filter":{"field":"d","gt":0}},{"aggregate":[{"op":"median","field":"v","as":"v"}],"groupby":["k"]}],"mark":{"type":"point","filled":true,"size":4,"opacity":1},"encoding":{"x":{"field":"k","type":"quantitative","scale":{"domain":[-1.25,6.25],"nice":false},"axis":null},"color":{"value":"#ffffff"}}}
   ],
   "resolve":{"scale":{"x":"independent"}}}
 ],"spacing":46,"bounds":"flush","resolve":{"scale":{"x":"independent","y":"independent","color":"independent"},"legend":{"color":"independent"}}},
 {"hconcat":[
  {"width":216,"height":123,"title":"PC3","data":{"name":"violins"},
   "transform":[{"filter":{"field":"p","equal":7}},{"lookup":"k","from":{"data":{"name":"methods"},"key":"k","fields":["method"]}}],
   "encoding":{"y":{"field":"v","type":"quantitative","scale":{"domain":[0.45,0.6],"nice":false,"zero":false},"axis":{"title":"Balanced Accuracy","values":[0.46,0.48,0.5,0.52,0.54,0.56,0.58,0.6],"format":".2f"}},
    "color":{"field":"method","type":"nominal","scale":{"domain":["RF Single Gene HQ Drugs","RF All Gene HQ Drugs","MTL ALL Drugs","DeepCop All Gene All Drugs","Proposed RCL","RCL Ensemble"]},"legend":{"title":null}}},
   "layer":[
    {"transform":[{"filter":{"field":"k","equal":0}}],"mark":"area","encoding":{"x":{"field":"d","type":"quantitative","stack":null,"scale":{"domain":[-1.2,6.0],"nice":false},"axis":null}}},
    {"transform":[{"filter":{"field":"k","equal":0}}],"mark":"area","encoding":{"x":{"field":"d","type":"quantitative","stack":null,"scale":{"domain":[-6.0,1.2],"reverse":true,"nice":false},"axis":null}}},
    {"transform":[{"filter":{"field":"k","equal":1}}],"mark":"area","encoding":{"x":{"field":"d","type":"quantitative","stack":null,"scale":{"domain":[-2.16,5.04],"nice":false},"axis":null}}},
    {"transform":[{"filter":{"field":"k","equal":1}}],"mark":"area","encoding":{"x":{"field":"d","type":"quantitative","stack":null,"scale":{"domain":[-5.04,2.16],"reverse":true,"nice":false},"axis":null}}},
    {"transform":[{"filter":{"field":"k","equal":2}}],"mark":"area","encoding":{"x":{"field":"d","type":"quantitative","stack":null,"scale":{"domain":[-3.12,4.08],"nice":false},"axis":null}}},
    {"transform":[{"filter":{"field":"k","equal":2}}],"mark":"area","encoding":{"x":{"field":"d","type":"quantitative","stack":null,"scale":{"domain":[-4.08,3.12],"reverse":true,"nice":false},"axis":null}}},
    {"transform":[{"filter":{"field":"k","equal":3}}],"mark":"area","encoding":{"x":{"field":"d","type":"quantitative","stack":null,"scale":{"domain":[-4.08,3.12],"nice":false},"axis":null}}},
    {"transform":[{"filter":{"field":"k","equal":3}}],"mark":"area","encoding":{"x":{"field":"d","type":"quantitative","stack":null,"scale":{"domain":[-3.12,4.08],"reverse":true,"nice":false},"axis":null}}},
    {"transform":[{"filter":{"field":"k","equal":4}}],"mark":"area","encoding":{"x":{"field":"d","type":"quantitative","stack":null,"scale":{"domain":[-5.04,2.16],"nice":false},"axis":null}}},
    {"transform":[{"filter":{"field":"k","equal":4}}],"mark":"area","encoding":{"x":{"field":"d","type":"quantitative","stack":null,"scale":{"domain":[-2.16,5.04],"reverse":true,"nice":false},"axis":null}}},
    {"transform":[{"filter":{"field":"k","equal":5}}],"mark":"area","encoding":{"x":{"field":"d","type":"quantitative","stack":null,"scale":{"domain":[-6.0,1.2],"nice":false},"axis":null}}},
    {"transform":[{"filter":{"field":"k","equal":5}}],"mark":"area","encoding":{"x":{"field":"d","type":"quantitative","stack":null,"scale":{"domain":[-1.2,6.0],"reverse":true,"nice":false},"axis":null}}},
    {"transform":[{"filter":{"field":"d","gt":0}},{"aggregate":[{"op":"min","field":"v","as":"v"},{"op":"max","field":"v","as":"v2"}],"groupby":["k"]}],"mark":{"type":"rule","strokeWidth":1.4},"encoding":{"x":{"field":"k","type":"quantitative","scale":{"domain":[-1.25,6.25],"nice":false},"axis":{"title":"External","labels":false,"values":[2.5],"titlePadding":0}},"y2":{"field":"v2"},"color":{"value":"#333333"}}},
    {"transform":[{"filter":{"field":"d","gt":0}},{"aggregate":[{"op":"median","field":"v","as":"v"}],"groupby":["k"]}],"mark":{"type":"point","filled":true,"size":4,"opacity":1},"encoding":{"x":{"field":"k","type":"quantitative","scale":{"domain":[-1.25,6.25],"nice":false},"axis":null},"color":{"value":"#ffffff"}}}
   ],
   "resolve":{"scale":{"x":"independent"}}},
  {"width":216,"height":123,"title":"VCAP","data":{"name":"violins"},
   "transform":[{"filter":{"field":"p","equal":8}},{"lookup":"k","from":{"data":{"name":"methods"},"key":"k","fields":["method"]}}],
   "encoding":{"y":{"field":"v","type":"quantitative","scale":{"domain":[0.4,0.7],"nice":false,"zero":false},"axis":{"title":"Balanced Accuracy","values":[0.4,0.45,0.5,0.55,0.6,0.65,0.7],"format":".2f"}},
    "color":{"field":"method","type":"nominal","scale":{"domain":["RF Single Gene HQ Drugs","RF All Gene HQ Drugs","MTL ALL Drugs","DeepCop All Gene All Drugs","Proposed RCL","RCL Ensemble"]},"legend":{"title":null}}},
   "layer":[
    {"transform":[{"filter":{"field":"k","equal":0}}],"mark":"area","encoding":{"x":{"field":"d","type":"quantitative","stack":null,"scale":{"domain":[-1.2,6.0],"nice":false},"axis":null}}},
    {"transform":[{"filter":{"field":"k","equal":0}}],"mark":"area","encoding":{"x":{"field":"d","type":"quantitative","stack":null,"scale":{"domain":[-6.0,1.2],"reverse":true,"nice":false},"axis":null}}},
    {"transform":[{"filter":{"field":"k","equal":1}}],"mark":"area","encoding":{"x":{"field":"d","type":"quantitative","stack":null,"scale":{"domain":[-2.16,5.04],"nice":false},"axis":null}}},
    {"transform":[{"filter":{"field":"k","equal":1}}],"mark":"area","encoding":{"x":{"field":"d","type":"quantitative","stack":null,"scale":{"domain":[-5.04,2.16],"reverse":true,"nice":false},"axis":null}}},
    {"transform":[{"filter":{"field":"k","equal":2}}],"mark":"area","encoding":{"x":{"field":"d","type":"quantitative","stack":null,"scale":{"domain":[-3.12,4.08],"nice":false},"axis":null}}},
    {"transform":[{"filter":{"field":"k","equal":2}}],"mark":"area","encoding":{"x":{"field":"d","type":"quantitative","stack":null,"scale":{"domain":[-4.08,3.12],"reverse":true,"nice":false},"axis":null}}},
    {"transform":[{"filter":{"field":"k","equal":3}}],"mark":"area","encoding":{"x":{"field":"d","type":"quantitative","stack":null,"scale":{"domain":[-4.08,3.12],"nice":false},"axis":null}}},
    {"transform":[{"filter":{"field":"k","equal":3}}],"mark":"area","encoding":{"x":{"field":"d","type":"quantitative","stack":null,"scale":{"domain":[-3.12,4.08],"reverse":true,"nice":false},"axis":null}}},
    {"transform":[{"filter":{"field":"k","equal":4}}],"mark":"area","encoding":{"x":{"field":"d","type":"quantitative","stack":null,"scale":{"domain":[-5.04,2.16],"nice":false},"axis":null}}},
    {"transform":[{"filter":{"field":"k","equal":4}}],"mark":"area","encoding":{"x":{"field":"d","type":"quantitative","stack":null,"scale":{"domain":[-2.16,5.04],"reverse":true,"nice":false},"axis":null}}},
    {"transform":[{"filter":{"field":"k","equal":5}}],"mark":"area","encoding":{"x":{"field":"d","type":"quantitative","stack":null,"scale":{"domain":[-6.0,1.2],"nice":false},"axis":null}}},
    {"transform":[{"filter":{"field":"k","equal":5}}],"mark":"area","encoding":{"x":{"field":"d","type":"quantitative","stack":null,"scale":{"domain":[-1.2,6.0],"reverse":true,"nice":false},"axis":null}}},
    {"transform":[{"filter":{"field":"d","gt":0}},{"aggregate":[{"op":"min","field":"v","as":"v"},{"op":"max","field":"v","as":"v2"}],"groupby":["k"]}],"mark":{"type":"rule","strokeWidth":1.4},"encoding":{"x":{"field":"k","type":"quantitative","scale":{"domain":[-1.25,6.25],"nice":false},"axis":{"title":"External","labels":false,"values":[2.5],"titlePadding":0}},"y2":{"field":"v2"},"color":{"value":"#333333"}}},
    {"transform":[{"filter":{"field":"d","gt":0}},{"aggregate":[{"op":"median","field":"v","as":"v"}],"groupby":["k"]}],"mark":{"type":"point","filled":true,"size":4,"opacity":1},"encoding":{"x":{"field":"k","type":"quantitative","scale":{"domain":[-1.25,6.25],"nice":false},"axis":null},"color":{"value":"#ffffff"}}}
   ],
   "resolve":{"scale":{"x":"independent"}}}
 ],"spacing":47,"bounds":"flush","resolve":{"scale":{"x":"independent","y":"independent","color":"independent"},"legend":{"color":"independent"}}}
],"spacing":26,"resolve":{"scale":{"x":"independent","y":"independent","color":"independent"},"legend":{"color":"independent"}}}
],
"spacing":9,
"resolve":{"scale":{"x":"independent","y":"independent","color":"independent"},"legend":{"color":"independent"}},
"config":{
 "font":"DejaVu Sans",
 "background":"#ffffff",
 "view":{"stroke":"#777777","strokeWidth":0.9},
 "area":{"orient":"horizontal","stroke":"#3a3a3a","strokeWidth":0.6,"opacity":1},
 "range":{"category":["#3274a1","#e1812c","#3a923a","#c03d3e","#9372b2","#845b53"]},
 "axis":{"labelFont":"DejaVu Sans","titleFont":"DejaVu Sans","labelFontSize":7.4,"titleFontSize":7.4,"titleFontWeight":"normal","labelColor":"#222222","titleColor":"#222222","tickColor":"#444444","tickSize":2.6,"labelPadding":1.5,"titlePadding":2,"domain":false,"grid":false},
 "title":{"font":"DejaVu Sans","fontSize":8.8,"fontWeight":"normal","color":"#222222","offset":3},
 "legend":{"orient":"bottom-right","offset":3,"padding":3,"fillColor":"#ffffff","strokeColor":"#cccccc","strokeWidth":0.8,"cornerRadius":3,"symbolType":"M-1.1,-0.45H1.7V0.45H-1.1Z","symbolSize":121,"symbolStrokeWidth":0,"labelFont":"DejaVu Sans","labelFontSize":7.3,"labelColor":"#222222","rowPadding":1.1,"labelOffset":9,"labelLimit":0}
}
}
